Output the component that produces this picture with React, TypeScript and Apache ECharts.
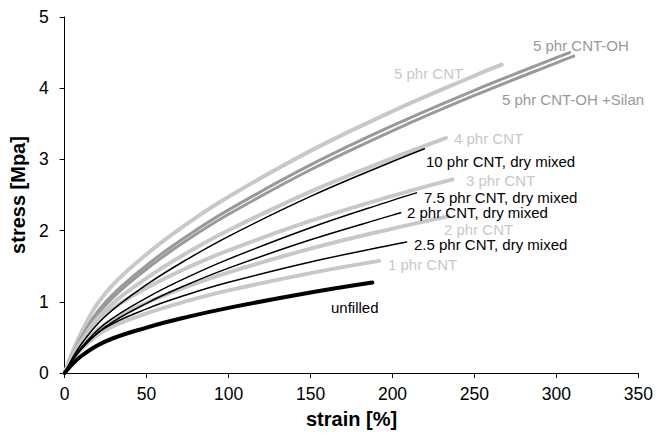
import React, { useEffect, useRef } from "react";
import * as echarts from "echarts";

// Sampled strain [%] positions shared by the curves; the last point of each curve is its own break strain.
const strainSteps = [0, 10, 25, 50, 75, 100, 150, 200, 250, 300];

// Stress [MPa] read at the strain steps above, then the break point [strain, stress].
const unfilled = [0, 0.235, 0.445, 0.638, 0.788, 0.915, 1.13];
const unfilledEnd = [187.7, 1.27];
const cnt1 = [0, 0.33, 0.605, 0.837, 1.013, 1.16, 1.403];
const cnt1End = [191.8, 1.575];
const dry25 = [0, 0.34, 0.637, 0.901, 1.103, 1.274, 1.56, 1.801];
const dry25End = [208.6, 1.84];
const cnt2 = [0, 0.36, 0.688, 0.986, 1.217, 1.414, 1.746, 2.028];
const cnt2End = [234, 2.2];
const dry2 = [0, 0.33, 0.65, 0.979, 1.243, 1.473, 1.871, 2.217];
const dry2End = [205, 2.25];
const dry75 = [0, 0.35, 0.697, 1.056, 1.346, 1.6, 2.041, 2.425];
const dry75End = [214.6, 2.53];
const cnt3 = [0, 0.43, 0.826, 1.194, 1.48, 1.723, 2.136, 2.488];
const cnt3End = [236.6, 2.72];
const dry10 = [0, 0.4, 0.8, 1.24, 1.6, 1.92, 2.48, 2.97];
const dry10End = [219.5, 3.15];
const cnt4 = [0, 0.44, 0.885, 1.332, 1.692, 2.005, 2.548, 3.019];
const cnt4End = [232.6, 3.3];
const cntOH = [0, 0.49, 0.997, 1.512, 1.928, 2.291, 2.922, 3.473, 3.97, 4.429];
const cntOHEnd = [308, 4.5];
const cntOHSilan = [0, 0.47, 0.957, 1.46, 1.87, 2.229, 2.855, 3.402, 3.898, 4.357];
const cntOHSilanEnd = [310.6, 4.45];
const cnt5 = [0, 0.56, 1.124, 1.668, 2.101, 2.476, 3.12, 3.676, 4.175];
const cnt5End = [266.6, 4.33];

const xTicks = { min: 0, max: 350, interval: 50 };
const yTicks = { min: 0, max: 5, interval: 1 };

const FONT = "'Liberation Sans', Arial, Helvetica, sans-serif";
const LIGHT = "#c8c8c8";
const MID = "#999999";
const BLACK = "#000000";

function toPoints(values: number[], end: number[]) {
  const pts = values.map((v, i) => [strainSteps[i], v]);
  pts.push(end);
  return pts;
}

type Curve = { name: string; values: number[]; end: number[]; color: string; width: number };

// Drawn in this order so the black curves sit on top of the grey ones.
const curves: Curve[] = [
  { name: "5 phr CNT", values: cnt5, end: cnt5End, color: LIGHT, width: 4 },
  { name: "5 phr CNT-OH", values: cntOH, end: cntOHEnd, color: MID, width: 3 },
  { name: "5 phr CNT-OH +Silan", values: cntOHSilan, end: cntOHSilanEnd, color: MID, width: 3 },
  { name: "4 phr CNT", values: cnt4, end: cnt4End, color: LIGHT, width: 4 },
  { name: "3 phr CNT", values: cnt3, end: cnt3End, color: LIGHT, width: 4 },
  { name: "2 phr CNT", values: cnt2, end: cnt2End, color: LIGHT, width: 4 },
  { name: "1 phr CNT", values: cnt1, end: cnt1End, color: LIGHT, width: 4 },
  { name: "10 phr CNT, dry mixed", values: dry10, end: dry10End, color: BLACK, width: 1.5 },
  { name: "7.5 phr CNT, dry mixed", values: dry75, end: dry75End, color: BLACK, width: 1.5 },
  { name: "2 phr CNT, dry mixed", values: dry2, end: dry2End, color: BLACK, width: 1.5 },
  { name: "2.5 phr CNT, dry mixed", values: dry25, end: dry25End, color: BLACK, width: 1.5 },
  { name: "unfilled", values: unfilled, end: unfilledEnd, color: BLACK, width: 4 },
];

// Curve annotations: text, left x, middle y, colour.
const annotations: [string, number, number, string][] = [
  ["5 phr CNT-OH", 533, 45, MID],
  ["5 phr CNT", 394, 73, LIGHT],
  ["5 phr CNT-OH +Silan", 502, 99, MID],
  ["4 phr CNT", 454, 138, LIGHT],
  ["10 phr CNT, dry mixed", 426, 161, BLACK],
  ["3 phr CNT", 466, 180, LIGHT],
  ["7.5 phr CNT, dry mixed", 424, 197, BLACK],
  ["2 phr CNT, dry mixed", 407, 212, BLACK],
  ["2 phr CNT", 444, 229, LIGHT],
  ["2.5 phr CNT, dry mixed", 414, 244, BLACK],
  ["1 phr CNT", 388, 264, LIGHT],
  ["unfilled", 331, 307, BLACK],
];

export default function App() {
  const ref = useRef<HTMLDivElement>(null);

  useEffect(() => {
    if (!ref.current) return;
    const chart = echarts.init(ref.current, undefined, { renderer: "svg" });
    const axisCommon = {
      splitLine: { show: false },
      axisLine: { show: true, lineStyle: { color: "#000", width: 1 } },
      axisTick: { show: true, inside: false, length: 5, lineStyle: { color: "#000", width: 1 } },
    };
    chart.setOption({
      animation: false,
      backgroundColor: "#ffffff",
      grid: { left: 62, right: 17, top: 17, bottom: 63 },
      xAxis: {
        type: "value",
        ...xTicks,
        ...axisCommon,
        axisLabel: { color: "#000", fontFamily: FONT, fontSize: 17.5, margin: 12 },
        name: "strain [%]",
        nameLocation: "middle",
        nameGap: 36,
        nameTextStyle: { color: "#000", fontFamily: FONT, fontSize: 20, fontWeight: "bold" },
      },
      yAxis: {
        type: "value",
        ...yTicks,
        ...axisCommon,
        axisLabel: { color: "#000", fontFamily: FONT, fontSize: 17.5, margin: 16 },
        name: "stress [Mpa]",
        nameLocation: "middle",
        nameGap: 35,
        nameTextStyle: { color: "#000", fontFamily: FONT, fontSize: 20, fontWeight: "bold" },
      },
      series: curves.map((c) => ({
        type: "line",
        name: c.name,
        data: toPoints(c.values, c.end),
        smooth: 0.4,
        showSymbol: false,
        symbol: "none",
        lineStyle: { color: c.color, width: c.width, cap: "round" },
        emphasis: { disabled: true },
      })),
      graphic: annotations.map(([text, x, y, color]) => ({
        type: "text",
        x,
        y,
        style: {
          text,
          fill: color,
          font: `15px ${FONT}`,
          verticalAlign: "middle",
        },
        z: 100,
      })),
    });
    return () => chart.dispose();
  }, []);

  return (
    <div
      ref={ref}
      style={{ position: "fixed", left: 0, top: 0, width: 656, height: 436, background: "#fff" }}
    />
  );
}
